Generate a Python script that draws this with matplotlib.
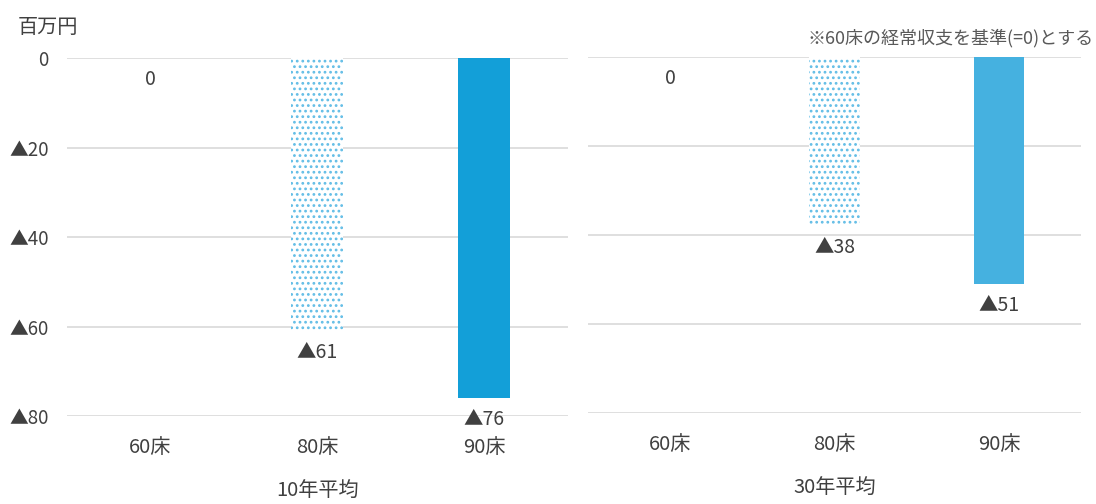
import matplotlib
matplotlib.use("Agg")
import matplotlib.pyplot as plt

plt.rcParams['font.family'] = ['Noto Sans CJK JP', 'DejaVu Sans']
plt.rcParams['hatch.linewidth'] = 1.2

categories = ["60床", "80床", "90床"]
vals_10 = [0, -61, -76]
vals_30 = [0, -38, -51]
labels_10 = ["0", "▲61", "▲76"]
labels_30 = ["0", "▲38", "▲51"]
yticks = [0, -20, -40, -60, -80]
ytick_labels = ["0", "▲20", "▲40", "▲60", "▲80"]
panel_titles = ["10年平均", "30年平均"]

txt = "#404040"
grid = "#d9d9d9"

fig = plt.figure(figsize=(10.96, 5.04), dpi=100)
ax1 = fig.add_axes([0.061, 0.1746, 0.457, 0.7103])
ax2 = fig.add_axes([0.5365, 0.1806, 0.450, 0.7063])

def draw(ax, vals, labels, solid_color, title, show_y):
    x = range(len(categories))
    w = 0.31
    ax.bar(1, vals[1], width=w, color="white", edgecolor="#62bde6",
           hatch="...", linewidth=0, zorder=2)
    ax.bar(2, vals[2], width=w, color=solid_color, linewidth=0, zorder=2)
    for i, (v, lab) in enumerate(zip(vals, labels)):
        ax.annotate(lab, (i, v), xytext=(0, -8), textcoords="offset points",
                    ha="center", va="top", fontsize=14, color=txt,
                    annotation_clip=False)
    ax.set_xlim(-0.5, 2.5)
    ax.set_ylim(-80, 0)
    ax.set_yticks(yticks)
    ax.yaxis.grid(True, color=grid, linewidth=1.2, zorder=0)
    ax.set_axisbelow(True)
    ax.set_xticks(list(x))
    ax.set_xticklabels(categories, fontsize=14.5, color=txt)
    ax.tick_params(axis="x", length=0, pad=15)
    if show_y:
        ax.set_yticklabels(ytick_labels, fontsize=13.5, color=txt)
        ax.tick_params(axis="y", length=0, pad=13)
    else:
        ax.set_yticklabels([])
        ax.tick_params(axis="y", length=0)
    for s in ax.spines.values():
        s.set_visible(False)
    ax.set_xlabel(title, fontsize=14.5, color=txt, labelpad=17)

draw(ax1, vals_10, labels_10, "#139fd8", panel_titles[0], True)
draw(ax2, vals_30, labels_30, "#45b1e0", panel_titles[1], False)

fig.text(0.016, 0.946, "百万円", fontsize=14.5, color=txt, ha="left", va="center")
fig.text(0.998, 0.925, "※60床の経常収支を基準(=0)とする", fontsize=13,
         color="#595959", ha="right", va="center")

fig.savefig("out.png", dpi=100)
